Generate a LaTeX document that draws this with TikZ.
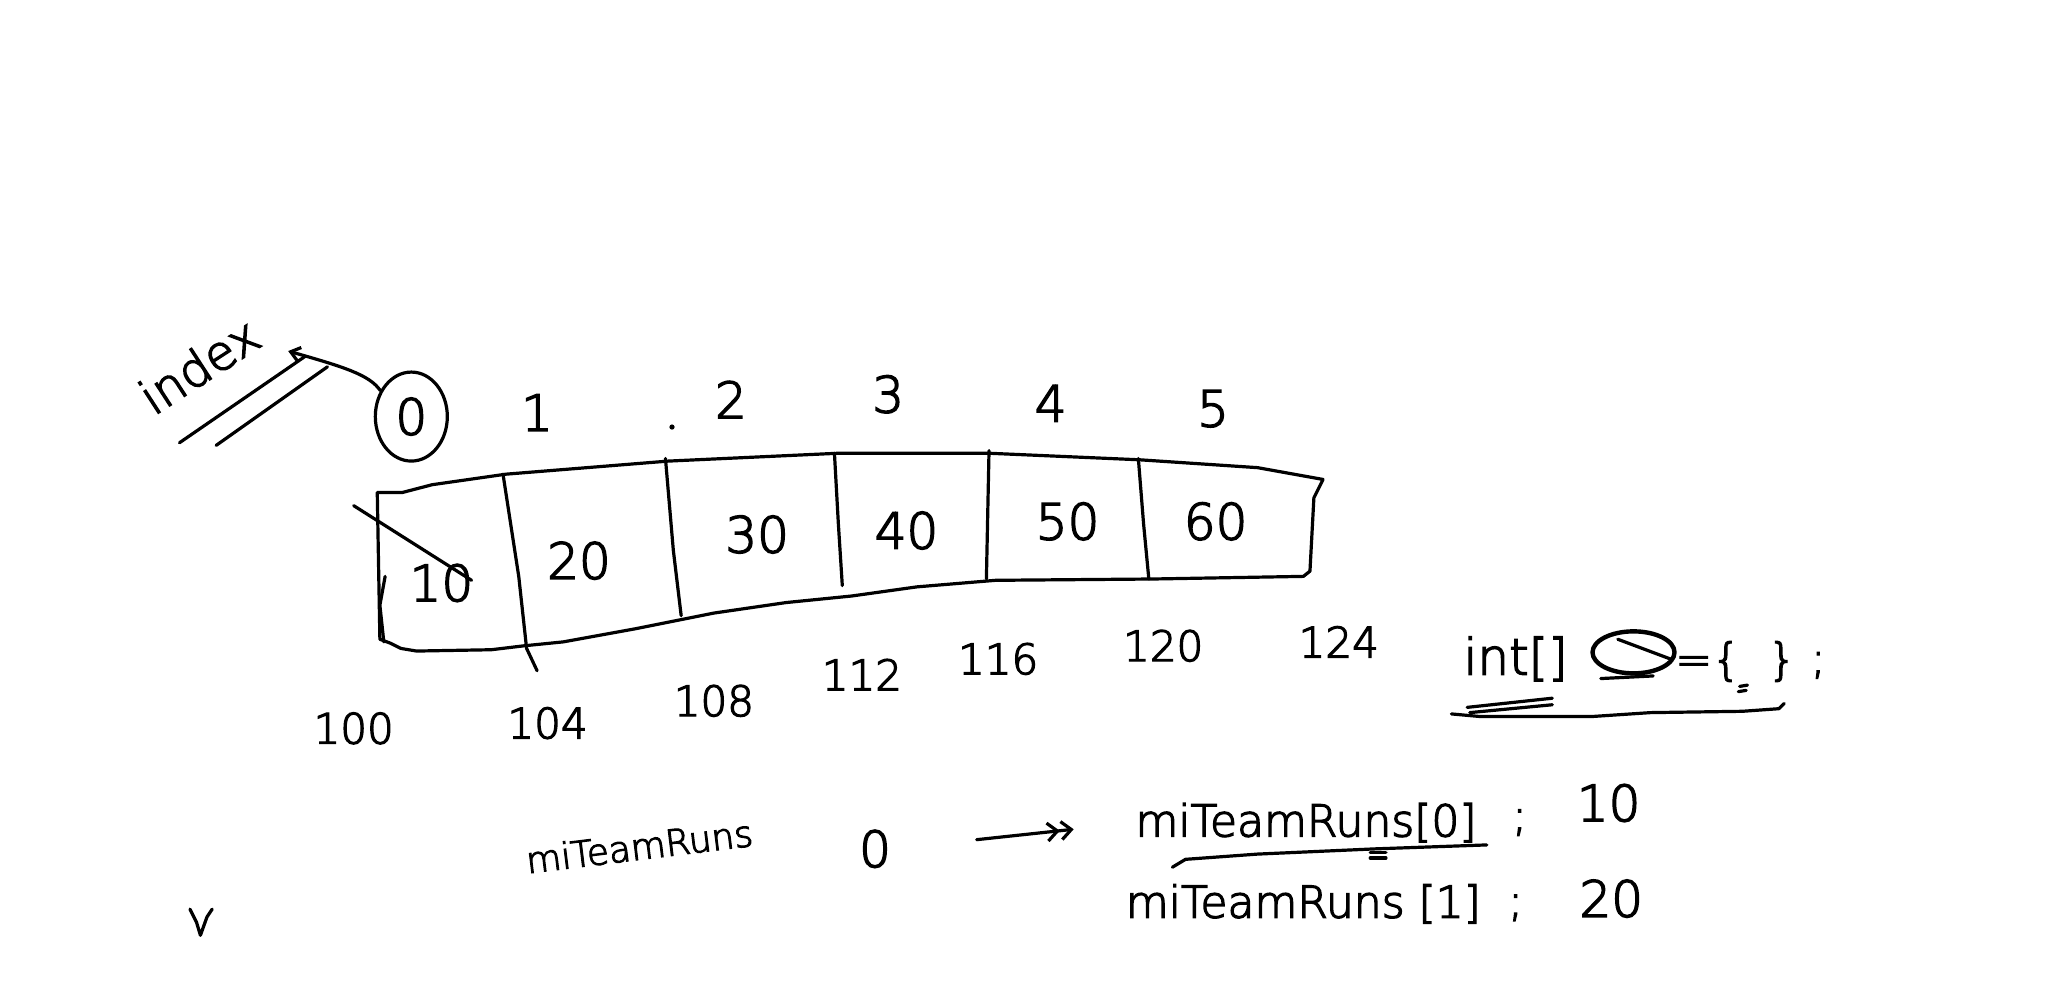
\documentclass[tikz,border=0pt]{standalone}
\usepackage{fontspec}
\newfontfamily\handfont[FakeBold=3]{DejaVu Sans ExtraLight}
\usetikzlibrary{arrows.meta,shapes.geometric}
\tikzset{
  pen/.style={draw=black, line width=3.2pt, line cap=round, line join=round},
  num/.style={font=\handfont\fontsize{50}{56}\selectfont, inner sep=0pt},
  addr/.style={font=\handfont\fontsize{42}{48}\selectfont, inner sep=0pt},
  word/.style={font=\handfont\fontsize{36}{40}\selectfont, inner sep=0pt},
  code/.style={font=\handfont\fontsize{44}{50}\selectfont, inner sep=0pt},
  penarrow/.style={pen, -{Straight Barb[length=9pt,width=14pt]}}
}

\begin{document}
\begin{tikzpicture}[x=1.31pt,y=-1.31pt]
\useasboundingbox (0,0) rectangle (1568,751);

% index caption with its underline
\node[word, font=\handfont\fontsize{48}{54}\selectfont, rotate=33] (index) at (152,279) {index};
\draw[pen] (137,338) -- (233,272);
\draw[pen] (165,340) -- (250,280);

% index row
\node[num, ellipse, pen, minimum width=72pt, minimum height=89pt] (idx0) at (314,318) {0};
\coordinate (idxtip) at (220,268);
\draw[penarrow] (idx0.140) .. controls (282,286) and (262,280) .. (idxtip);
\node[num] (idx1) at (410,315) {1};
\node[num] (idx2) at (558,305) {2};
\node[num] (idx3) at (678,301) {3};
\node[num] (idx4) at (802,308) {4};
\node[num] (idx5) at (926,312) {5};
\fill (513,326) circle [radius=2];

% the array, drawn freehand
\draw[pen] (288,376) -- (307,376) -- (330,370) -- (386,362) -- (510,352)
  -- (640,346) -- (755,346) -- (870,351) -- (960,357) -- (1010,366)
  -- (1003,380) -- (1000,436) -- (995,440) -- (880,442) -- (760,443)
  -- (700,448) -- (650,455) -- (600,460) -- (545,468) -- (485,480)
  -- (430,490) -- (400,493) -- (375,496) -- (318,497) -- (306,495)
  -- (298,491) -- (290,488) -- (288,376);
\draw[pen] (294,440) -- (290,462) -- (293,490);
\draw[pen] (384,362) -- (396,440) -- (402,495) -- (410,512);
\draw[pen] (508,350) -- (514,420) -- (520,470);
\draw[pen] (637,346) -- (640,400) -- (643,447);
\draw[pen] (755,344) -- (753,442);
\draw[pen] (869,350) -- (873,400) -- (877,442);

% cell values
\node[num] (val0) at (337,445) {10};
\draw[pen] (270,386) -- (360,443);
\node[num] (val1) at (442,428) {20};
\node[num] (val2) at (578,408) {30};
\node[num] (val3) at (692,405) {40};
\node[num] (val4) at (815,398) {50};
\node[num] (val5) at (928,398) {60};

% addresses
\node[addr] (adr0) at (270,556) {100};
\node[addr] (adr1) at (418,552) {104};
\node[addr] (adr2) at (545,535) {108};
\node[addr] (adr3) at (658,515) {112};
\node[addr] (adr4) at (762,503) {116};
\node[addr] (adr5) at (888,493) {120};
\node[addr] (adr6) at (1022,490) {124};

% declaration
\node[code, font=\handfont\fontsize{50}{56}\selectfont] (decl) at (1157,503) {int[]};
\node[ellipse, pen, line width=4.4pt, minimum width=82pt, minimum height=42pt] (blob) at (1247,498) {};
\draw[pen] (1235,488) -- (1275,503);
\draw[pen] (1222,518) -- (1262,516);
\node[code] (braces) at (1325,505) {=\{\ \ \}};
\draw[pen] (1328,524) -- (1334,523);
\draw[pen] (1327,528) -- (1333,527);
\node[code] (declsemi) at (1388,508) {;};
\draw[pen] (1120,540) -- (1185,533);
\draw[pen] (1122,544) -- (1185,538);
\draw[pen] (1108,545) -- (1130,547) -- (1215,547) -- (1260,544) -- (1330,543)
  -- (1358,541) -- (1362,537);

% access example
\node[word, rotate=7] (lhs) at (488,646) {miTeamRuns};
\node[num] (zero) at (668,648) {0};
\node[code] (rhs0) at (997,628) {miTeamRuns[0]};
\node[code] (semi0) at (1160,628) {;};
\node[num] (ten) at (1228,613) {10};
\draw[pen, -{Straight Barb[length=10pt,width=18pt]Straight Barb[length=10pt,width=18pt]},
  shorten <=86pt, shorten >=62pt] (zero.east) -- (rhs0.west);
\draw[pen] (895,662) -- (905,656) -- (960,652) -- (1050,648) -- (1135,645);
\draw[pen] (1046,651) -- (1058,651);
\draw[pen] (1046,655) -- (1058,655);
\node[code] (rhs1) at (995,690) {miTeamRuns [1]};
\node[code] (semi1) at (1157,693) {;};
\node[num] (twenty) at (1230,686) {20};

% stray mark
\draw[pen] (145,694) -- (150,704) -- (153,714) -- (158,700) -- (162,694);
\end{tikzpicture}
\end{document}
